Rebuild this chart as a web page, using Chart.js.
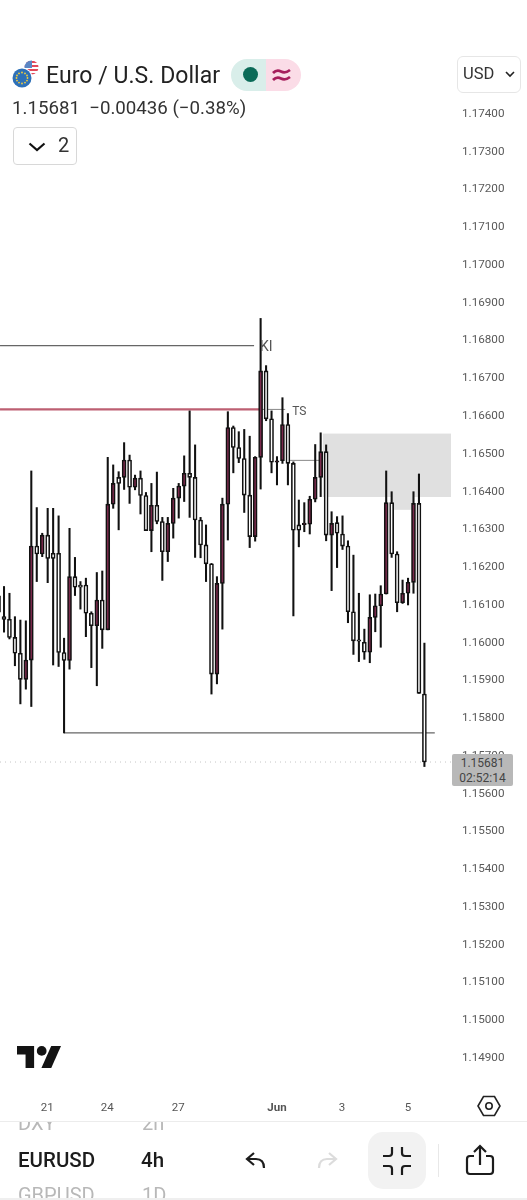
<!DOCTYPE html>
<html>
<head>
<meta charset="utf-8">
<script src="https://cdn.jsdelivr.net/npm/chart.js@4/dist/chart.umd.js"></script>
<style>
html, body { margin: 0; padding: 0; background: #fff; font-family: Roboto, sans-serif; color: #222; }
#page { position: relative; width: 527px; height: 1200px; overflow: hidden; }
#chartBox { position: absolute; left: 0; top: 0; width: 527px; height: 1120px; }
.abs { position: absolute; white-space: nowrap; }
svg { position: absolute; overflow: visible; }
</style>
</head>
<body>
<div id="page">
  <div id="chartBox"><canvas id="grafico"></canvas></div>

  <!-- cabecalho -->
  <svg style="left:12px;top:60px" width="30" height="30" viewBox="0 0 30 30">
    <clipPath id="usClip"><circle cx="19.5" cy="7.5" r="7"/></clipPath>
    <g clip-path="url(#usClip)">
      <rect x="12" y="0" width="16" height="16" fill="#fff"/>
      <rect x="12" y="1" width="16" height="2" fill="#e2495a"/>
      <rect x="12" y="5" width="16" height="2" fill="#e2495a"/>
      <rect x="12" y="9" width="16" height="2" fill="#e2495a"/>
      <rect x="12" y="13" width="16" height="2" fill="#e2495a"/>
      <rect x="12" y="0" width="8" height="8" fill="#5b86c4"/>
    </g>
    <circle cx="10" cy="18" r="10.5" fill="#fff"/>
    <circle cx="10" cy="18" r="9.5" fill="#2d70b8"/>
    <g fill="#f4cf3a">
      <circle cx="10" cy="12.5" r=".9"/><circle cx="13" cy="13.4" r=".9"/><circle cx="15" cy="15.5" r=".9"/>
      <circle cx="15.5" cy="18" r=".9"/><circle cx="15" cy="20.6" r=".9"/><circle cx="13" cy="22.6" r=".9"/>
      <circle cx="10" cy="23.5" r=".9"/><circle cx="7" cy="22.6" r=".9"/><circle cx="5" cy="20.6" r=".9"/>
      <circle cx="4.5" cy="18" r=".9"/><circle cx="5" cy="15.5" r=".9"/><circle cx="7" cy="13.4" r=".9"/>
    </g>
  </svg>
  <div class="abs" style="left:46px;top:62px;font-size:23px;line-height:28px;letter-spacing:.05px">Euro / U.S. Dollar</div>
  <div class="abs" style="left:231px;top:59px;width:35px;height:32px;background:#d9eeea;border-radius:16px 0 0 16px"></div>
  <div class="abs" style="left:266px;top:59px;width:35px;height:32px;background:#fbdce7;border-radius:0 16px 16px 0"></div>
  <div class="abs" style="left:243px;top:67px;width:15px;height:15px;background:#0b6b58;border-radius:50%"></div>
  <svg style="left:272px;top:67px" width="20" height="16" viewBox="0 0 20 16" fill="none" stroke="#a61e5c" stroke-width="2.8">
    <path d="M1 6c3-3 5-3 8-1.500s5 1.500 9-1.500"/><path d="M1 13c3-3 5-3 8-1.500s5 1.500 9-1.500"/>
  </svg>
  <div class="abs" style="left:12px;top:96px;font-size:18.700px;line-height:24px;color:#333">1.15681&nbsp; −0.00436 (−0.38%)</div>
  <div class="abs" style="left:13px;top:127px;width:62px;height:36px;border:1.500px solid #d8d8d8;border-radius:4px"></div>
  <svg style="left:28px;top:142px" width="18" height="10" viewBox="0 0 18 10" fill="none" stroke="#111" stroke-width="2.200"><path d="M1.500 1.500l7.500 6.500 7.500-6.500"/></svg>
  <div class="abs" style="left:58px;top:133px;font-size:20px;line-height:24px;color:#333">2</div>
  <div class="abs" style="left:457px;top:56px;width:62px;height:35px;border:1.500px solid #e6e6e6;border-radius:6px"></div>
  <div class="abs" style="left:463px;top:63px;font-size:16.500px;line-height:22px;color:#333">USD</div>
  <svg style="left:505px;top:71px" width="10" height="7" viewBox="0 0 10 7" fill="none" stroke="#222" stroke-width="1.600"><path d="M1 1l4 4 4-4"/></svg>

  <!-- etiqueta do preco -->
  <div class="abs" style="left:452px;top:754px;width:61px;height:32px;background:#b8b8b8;border-radius:2px;text-align:center;font-size:12px;line-height:14.500px;color:#444;padding-top:2px;box-sizing:border-box">1.15681<br>02:52:14</div>

  <!-- logo -->
  <svg style="left:17px;top:1046px" width="44" height="22" viewBox="0 0 36 18" fill="#131313">
    <path d="M14 18H7V7H0V0h14z"/><circle cx="20.200" cy="4" r="4"/><path d="M28 18h-8L28 0h8z"/>
  </svg>
  <svg style="left:477px;top:1095px" width="24" height="22" viewBox="0 0 24 22" fill="none" stroke="#222" stroke-width="1.600">
    <path d="M1 11l5.500-9.500h11L23 11l-5.500 9.500h-11z"/><circle cx="12" cy="11" r="3.200"/>
  </svg>

  <!-- barra inferior -->
  <div class="abs" style="left:0;top:1121px;width:527px;height:1px;background:#ececec"></div>
  <div class="abs" style="left:0;top:1122px;width:527px;height:17px;overflow:hidden">
    <div class="abs" style="left:18px;top:-11px;font-size:20px;line-height:24px;color:#b8b8b8">DXY</div>
    <div class="abs" style="left:142px;top:-11px;font-size:20px;line-height:24px;color:#b8b8b8">2h</div>
  </div>
  <div class="abs" style="left:18px;top:1147px;font-size:20.500px;line-height:26px;font-weight:500;color:#1c1c1c">EURUSD</div>
  <div class="abs" style="left:141px;top:1147px;font-size:20.500px;line-height:26px;font-weight:500;color:#1c1c1c">4h</div>
  <div class="abs" style="left:0;top:1180px;width:527px;height:18px;overflow:hidden">
    <div class="abs" style="left:18px;top:3px;font-size:20px;line-height:24px;color:#b8b8b8">GBPUSD</div>
    <div class="abs" style="left:142px;top:3px;font-size:20px;line-height:24px;color:#b8b8b8">1D</div>
  </div>
  <div class="abs" style="left:0;top:1198px;width:527px;height:2px;background:#efefef"></div>
  <svg style="left:245px;top:1151px" width="22" height="19" viewBox="0 0 22 19" fill="none" stroke="#1c1c1c" stroke-width="2.200"><path d="M9 2L2 8l7 6"/><path d="M2 8h9c5 0 8 3 8 9"/></svg>
  <svg style="left:316px;top:1151px" width="22" height="19" viewBox="0 0 22 19" fill="none" stroke="#dcdcdc" stroke-width="2.200"><path d="M13 2l7 6-7 6"/><path d="M20 8h-9c-5 0-8 3-8 9"/></svg>
  <div class="abs" style="left:368px;top:1132px;width:58px;height:57px;background:#f2f2f2;border-radius:15px"></div>
  <svg style="left:382px;top:1146px" width="30" height="30" viewBox="0 0 30 30" fill="none" stroke="#1c1c1c" stroke-width="2.200">
    <path d="M1 10h6c2 0 3-1 3-3V1"/><path d="M29 10h-6c-2 0-3-1-3-3V1"/><path d="M1 20h6c2 0 3 1 3 3v6"/><path d="M29 20h-6c-2 0-3 1-3 3v6"/>
  </svg>
  <div class="abs" style="left:438px;top:1144px;width:1px;height:33px;background:#e8e8e8"></div>
  <svg style="left:466px;top:1144px" width="28" height="31" viewBox="0 0 28 31" fill="none" stroke="#1c1c1c" stroke-width="2.200">
    <path d="M8 12H4c-2 0-3 1-3 3v12c0 2 1 3 3 3h20c2 0 3-1 3-3V15c0-2-1-3-3-3h-4"/><path d="M14 21V2"/><path d="M8 8l6-6 6 6"/>
  </svg>
</div>

<script>
// dados (velas de 4h, EURUSD)
const opens = [
  1.16121,1.16066,1.16059,1.16011,1.15969,1.15900,1.15951,1.16253,1.16232,1.16282,
  1.16234,1.16234,1.15971,1.15950,1.16172,1.16150,1.16150,1.16075,1.16042,1.16110,
  1.16031,1.16364,1.16435,1.16435,1.16481,1.16409,1.16433,1.16387,1.16294,1.16361,
  1.16318,1.16238,1.16313,1.16380,1.16412,1.16446,1.16435,1.16322,1.16256,1.16206,
  1.15914,1.16154,1.16364,1.16567,1.16514,1.16485,1.16388,1.16278,1.16488,1.16717,
  1.16590,1.16475,1.16479,1.16575,1.16472,1.16309,1.16310,1.16311,1.16377,1.16435,
  1.16503,1.16282,1.16315,1.16285,1.16253,1.16079,1.16003,1.15998,1.15972,1.16064,
  1.16095,1.16126,1.16368,1.16232,1.16103,1.16128,1.16157,1.16366,1.15861];
const closes = [
  1.16078,1.16059,1.16011,1.15969,1.15900,1.15951,1.16253,1.16232,1.16282,1.16220,
  1.16220,1.15971,1.15950,1.16172,1.16144,1.16144,1.16075,1.16042,1.16110,1.16031,
  1.16364,1.16419,1.16419,1.16481,1.16409,1.16433,1.16387,1.16294,1.16361,1.16318,
  1.16238,1.16313,1.16380,1.16412,1.16446,1.16435,1.16322,1.16256,1.16206,1.15914,
  1.16154,1.16364,1.16567,1.16514,1.16485,1.16388,1.16278,1.16488,1.16717,1.16590,
  1.16475,1.16479,1.16575,1.16472,1.16295,1.16295,1.16313,1.16377,1.16435,1.16503,
  1.16282,1.16313,1.16287,1.16253,1.16079,1.16002,1.16001,1.15972,1.16064,1.16095,
  1.16126,1.16368,1.16232,1.16103,1.16128,1.16157,1.16366,1.15863,1.15681];
const highs = [
  1.16161,1.16146,1.16128,1.16066,1.16057,1.16055,1.16452,1.16355,1.16287,1.16353,
  1.16353,1.16333,1.16009,1.16300,1.16223,1.16159,1.16168,1.16079,1.16183,1.16187,
  1.16488,1.16468,1.16450,1.16527,1.16494,1.16441,1.16452,1.16395,1.16419,1.16449,
  1.16329,1.16329,1.16406,1.16419,1.16492,1.16611,1.16521,1.16329,1.16309,1.16207,
  1.16172,1.16380,1.16609,1.16571,1.16556,1.16562,1.16544,1.16490,1.16856,1.16731,
  1.16611,1.16490,1.16646,1.16604,1.16476,1.16375,1.16368,1.16385,1.16522,1.16553,
  1.16521,1.16344,1.16331,1.16333,1.16267,1.16229,1.16128,1.16033,1.16124,1.16126,
  1.16148,1.16452,1.16397,1.16238,1.16163,1.16168,1.16397,1.16444,1.15996];
const lows = [
  1.16065,1.16025,1.16007,1.15936,1.15835,1.15874,1.15828,1.16159,1.16225,1.16156,
  1.15938,1.15934,1.15758,1.15927,1.16122,1.16086,1.16013,1.15931,1.15883,1.15982,
  1.16031,1.16353,1.16296,1.16403,1.16366,1.16402,1.16338,1.16294,1.16238,1.16312,
  1.16162,1.16212,1.16274,1.16327,1.16371,1.16329,1.16223,1.16222,1.16159,1.15861,
  1.15888,1.16033,1.16269,1.16447,1.16474,1.16342,1.16249,1.16266,1.16404,1.16585,
  1.16447,1.16415,1.16472,1.16415,1.16068,1.16251,1.16291,1.16285,1.16370,1.16384,
  1.16267,1.16135,1.16196,1.16244,1.16050,1.15966,1.15947,1.15953,1.15944,1.16026,
  1.15985,1.16126,1.16223,1.16079,1.16101,1.16097,1.16128,1.15863,1.15669];

const priceTicks = [1.174,1.173,1.172,1.171,1.170,1.169,1.168,1.167,1.166,1.165,1.164,1.163,1.162,
  1.161,1.160,1.159,1.158,1.157,1.156,1.155,1.154,1.153,1.152,1.151,1.150,1.149];
const timeLabels = ['21','24','27','Jun','3','5'];
const timePositions = [8.9,19.9,32.9,51,62.9,75];

// linhas desenhadas no grafico
const kiLine = [{x:0.27,y:1.16784},{x:46.8,y:1.16784}];
const redLine = [{x:0.27,y:1.16615},{x:48.25,y:1.16615}];
const tsLine = [{x:48.25,y:1.16615},{x:52.5,y:1.16615}];
const midLine = [{x:53.4,y:1.16480},{x:59,y:1.16480}];
const lowLine = [{x:12,y:1.15758},{x:79.9,y:1.15758}];
const lastLine = [{x:0.27,y:1.15681},{x:82.87,y:1.15681}];

// zonas cinzas
const zoneStarts = [59.4,72.06];
const zoneEnds = [82.87,75.9];
const zoneTops = [1.16551,1.16396];
const zoneBottoms = [1.16383,1.16349];

// textos KI e TS
const noteTexts = ['KI','TS'];
const noteX = [47.9,53.8];
const noteY = [1.16780,1.16610];

const xs = opens.map((o,i)=>i);

const zonesPlugin = {
    id: 'zones',
    beforeDatasetsDraw(chart){
        const {ctx, scales:{x,y}} = chart;
        ctx.save();
        ctx.fillStyle = '#e0e0e0';
        zoneStarts.forEach((s,i)=>{
            ctx.fillRect(x.getPixelForValue(s), y.getPixelForValue(zoneTops[i]),
                x.getPixelForValue(zoneEnds[i])-x.getPixelForValue(s),
                y.getPixelForValue(zoneBottoms[i])-y.getPixelForValue(zoneTops[i]));
        });
        ctx.restore();
    },
    afterDatasetsDraw(chart){
        const {ctx, scales:{x,y}} = chart;
        ctx.save();
        ctx.textBaseline = 'middle';
        noteTexts.forEach((t,i)=>{
            ctx.font = (i==0 ? '14px' : '12px')+' Roboto';
            ctx.fillStyle = '#555';
            ctx.fillText(t, x.getPixelForValue(noteX[i]), y.getPixelForValue(noteY[i])+0.5);
        });
        ctx.restore();
    }
};

function lineSet(data, color, width, dash){
    return {type:'line', data:data, borderColor:color, borderWidth:width, borderDash:dash||[],
        pointRadius:0, order:3, parsing:true};
}

new Chart(document.getElementById('grafico'), {
    type: 'bar',
    plugins: [zonesPlugin],
    data: {
        datasets: [
            lineSet(kiLine,'#666',1.2),
            lineSet(redLine,'#bd5f72',2.2),
            lineSet(tsLine,'#888',1),
            lineSet(midLine,'#888',1),
            lineSet(lowLine,'#666',1.3),
            lineSet(lastLine,'#c4c4c4',1,[1,4]),
            {
                // pavios
                data: xs.map(i=>({x:i,y:[lows[i],highs[i]]})),
                backgroundColor:'#111', borderWidth:0, barThickness:1.4, grouped:false, order:2
            },
            {
                // corpos
                data: xs.map(i=>({x:i,y:[opens[i],closes[i]]})),
                backgroundColor: xs.map(i=>closes[i]>opens[i] ? '#7a2a4c' : '#ffffff'),
                borderColor:'#111', borderWidth:1.6, borderSkipped:false,
                barThickness:4, minBarLength:1.5, grouped:false, order:1
            }
        ]
    },
    options: {
        responsive:true,
        maintainAspectRatio:false,
        animation:false,
        layout:{padding:{top:50,left:0,right:0,bottom:0}},
        plugins:{legend:{display:false},tooltip:{enabled:false}},
        scales:{
            x:{
                type:'linear', offset:false, min:0.267, max:82.87,
                grid:{display:false, drawTicks:false}, border:{display:false},
                afterBuildTicks(scale){ scale.ticks = timePositions.map(v=>({value:v})); },
                afterFit(scale){ scale.height = 25; },
                ticks:{
                    autoSkip:false, maxRotation:0, padding:6, color:'#555',
                    font(c){ return c.index==3 ? {family:'Roboto',size:11.5,weight:'bold'} : {family:'Roboto',size:11.5}; },
                    callback(v,i){ return timeLabels[i]; }
                }
            },
            y:{
                position:'right', min:1.14799, max:1.17567,
                grid:{display:false, drawTicks:false}, border:{display:false},
                afterBuildTicks(scale){ scale.ticks = priceTicks.map(v=>({value:v})); },
                afterFit(scale){ scale.width = 76; },
                ticks:{
                    autoSkip:false, padding:11, labelOffset:1, color:'#5a5a5a', font:{family:'Roboto',size:11.7},
                    callback(v){ return v.toFixed(5); }
                }
            }
        }
    }
});
</script>
</body>
</html>
